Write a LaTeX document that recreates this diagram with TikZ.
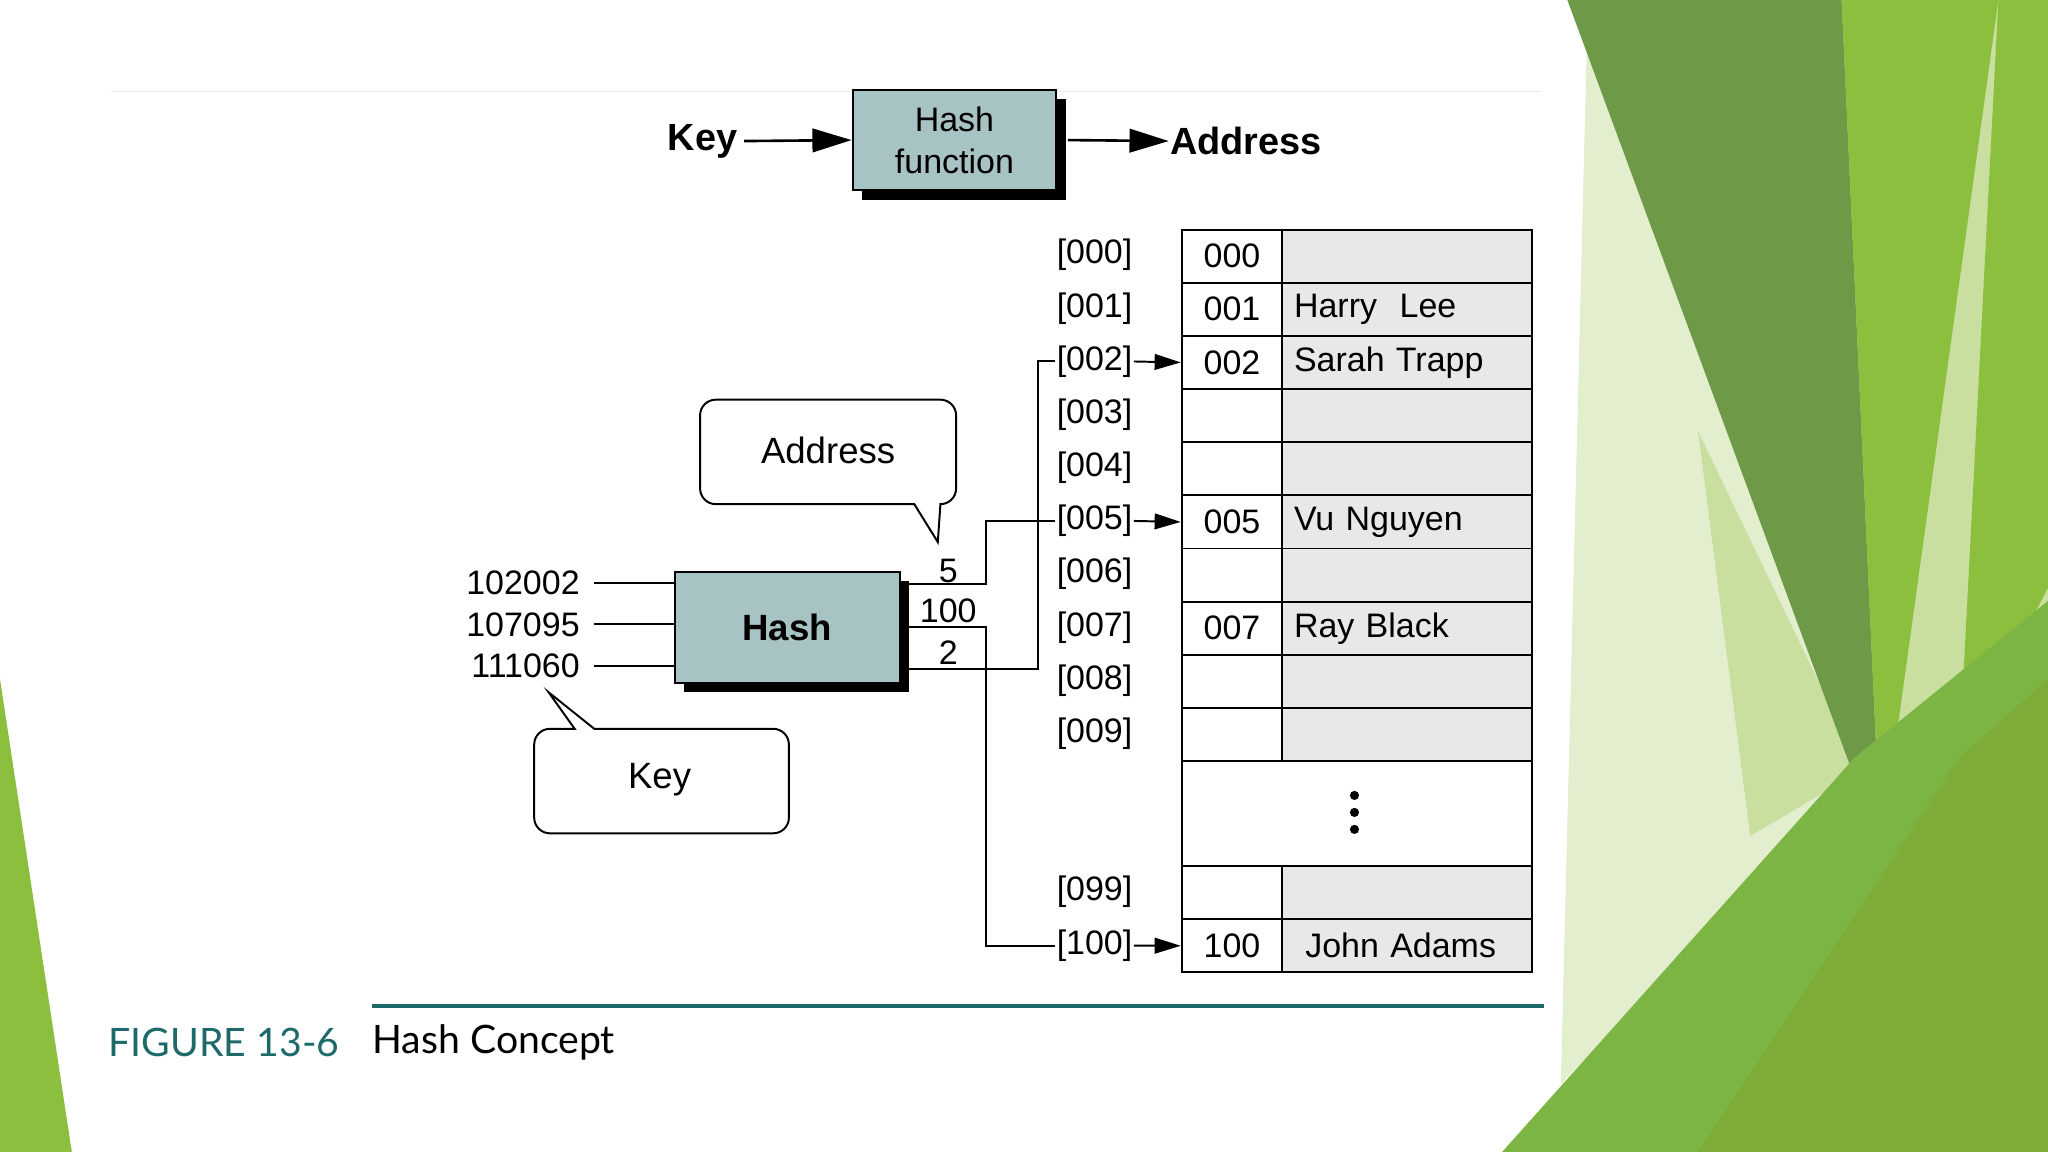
\documentclass[tikz,border=0pt]{standalone}
\usepackage{fontspec}
\setmainfont{Liberation Sans}
\newfontfamily\capfont{Lato}
\usetikzlibrary{arrows.meta}
\begin{document}
\begin{tikzpicture}[x=1pt,y=-1pt,
  txt/.style={font=\fontsize{26}{28}\selectfont,inner sep=1pt},
  hbox/.style={draw=black,line width=1.5pt,fill=hashfill},
  cell/.style={draw=black,line width=1.5pt,anchor=north west,minimum height=40.7pt,inner sep=0pt,font=\fontsize{26}{28}\selectfont},
  tip/.style={-{Triangle[length=30pt,width=18pt]},line width=2pt},
  stip/.style={-{Triangle[length=20pt,width=12pt]},line width=1.5pt},
  wire/.style={line width=1.5pt}]
\definecolor{hashfill}{HTML}{A8C3C3}
\definecolor{gA}{HTML}{6E9A48}
\definecolor{gB}{HTML}{8DBF3F}
\definecolor{gC}{HTML}{C8DFA0}
\definecolor{gE}{HTML}{E3EECF}
\definecolor{gD}{HTML}{7DB544}
\definecolor{teal}{HTML}{1E6A6A}
\useasboundingbox (0,0) rectangle (1568,882);
% background
\fill[white] (0,0) rectangle (1568,882);
\fill[gC] (1205,0) -- (1568,0) -- (1568,882) -- (1250,882) -- (1420,560) -- cycle;
\fill[gE] (1215,30) -- (1425,590) -- (1195,830) -- cycle;
\fill[gC] (1300,330) -- (1425,590) -- (1340,640) -- cycle;
\fill[gA] (1200,0) -- (1410,0) -- (1440,650) -- cycle;
\fill[gB] (1410,0) -- (1530,0) -- (1440,650) -- cycle;
\fill[gB] (1530,0) -- (1568,0) -- (1568,450) -- (1500,580) -- cycle;
\fill[gD] (1150,882) -- (1420,580) -- (1568,460) -- (1568,882) -- cycle;
\fill[gB!90!black] (1300,882) -- (1500,580) -- (1568,520) -- (1568,882) -- cycle;
\fill[gB] (0,520) -- (55,882) -- (0,882) -- cycle;
\draw[gray!15] (85,70) -- (1180,70);
% top
\node[txt,font=\fontsize{29}{31}\selectfont\bfseries] (key) at (538,108) {Key};
\fill (660,76) rectangle (816,153);
\node[hbox,minimum width=156pt,minimum height=77pt,anchor=north west,align=center,font=\fontsize{26}{32}\selectfont] (hf) at (652,68) {Hash\\function};
\node[txt,font=\fontsize{29}{31}\selectfont\bfseries] (addr) at (954,108) {Address};
\draw[tip] (key.east) ++(4,0) -- (hf.west);
\draw[tip] (hf.east) ++(8,0) coordinate (hfe) -- (addr.west);
% table
\def\h{40.7}
\foreach \i/\c/\n/\l in {0/000//000,1/001/Harry\ \ Lee/001,2/002/Sarah Trapp/002,3///003,4///004,5/005/Vu Nguyen/005,6///006,7/007/Ray Black/007,8///008,9///009}{
  \node[cell,minimum width=77pt,fill=white] (c\i) at (904,175+\i*\h) {\c};
  \node[cell,minimum width=191pt,fill=gray!18,text width=173pt,align=left] (n\i) at (981,175+\i*\h) {\n};
  \node[txt] (L\i) at (838,175+\i*\h+\h/2) {[\l]};
}
\node[cell,minimum width=268pt,minimum height=80pt,fill=white] (dots) at (904,582) {};
\foreach \d in {-13,0,13} \fill (1037,622+\d) circle (3.5pt);
\node[cell,minimum width=77pt,fill=white] (c99) at (904,662) {};
\node[cell,minimum width=191pt,fill=gray!18] (n99) at (981,662) {};
\node[txt] (L99) at (838,683) {[099]};
\node[cell,minimum width=77pt,fill=white] (c100) at (904,703) {100};
\node[cell,minimum width=191pt,fill=gray!18,text width=173pt,align=left] (n100) at (981,703) {\ John Adams};
\node[txt] (L100) at (838,724) {[100]};
% hash
\fill (524,445) rectangle (696,530);
\node[hbox,minimum width=172pt,minimum height=85pt,anchor=north west,font=\fontsize{28}{30}\selectfont\bfseries] (hash) at (516,437) {Hash};
\foreach \k/\y in {102002/446,107095/478,111060/510}{
  \node[txt,anchor=east] (k\k) at (445,\y) {\k};
  \draw[wire] (k\k.east) ++(10,0) -- (516,\y);
}
\node[txt] (o5) at (726,437) {5};
\node[txt] (o100) at (726,468) {100};
\node[txt] (o2) at (726,500) {2};
\coordinate (a5) at (696,447);
\coordinate (a100) at (696,480);
\coordinate (a2) at (696,512);
\draw[wire] (a5) -- (755,447) |- (L5.west);
\draw[wire] (a100) -- (755,480) |- (L100.west);
\draw[wire] (a2) -- (795,512) |- (L2.west);
\draw[stip] (L2.east) -- (c2.west);
\draw[stip] (L5.east) -- (c5.west);
\draw[stip] (L100.east) -- (c100.west);
% callouts
\draw[line width=1.5pt,rounded corners=12pt] (620,306) -- (732,306) -- (732,386) [sharp corners]-- (720,386) -- (718,415) -- (700,386) [rounded corners=12pt]-- (536,386) -- (536,306) -- (620,306);
\node[txt,font=\fontsize{28}{30}\selectfont] (ca) at (634,345) {Address};
\draw[line width=1.5pt,rounded corners=12pt] (500,558) -- (604,558) -- (604,638) -- (409,638) -- (409,558) [sharp corners]-- (440,558) -- (420,530) -- (455,558) [rounded corners=12pt]-- (500,558);
\node[txt,font=\fontsize{28}{30}\selectfont] (ck) at (505,597) {Key};
% caption
\draw[teal,line width=3pt] (285,770) -- (1182,770);
\node[anchor=west,teal,font=\capfont\fontsize{30}{32}\selectfont,inner sep=0pt] (fig) at (83,798) {FIGURE 13-6};
\node[anchor=west,font=\capfont\fontsize{30}{32}\selectfont,inner sep=0pt] (cap) at (285,798) {Hash Concept};
\end{tikzpicture}
\end{document}
